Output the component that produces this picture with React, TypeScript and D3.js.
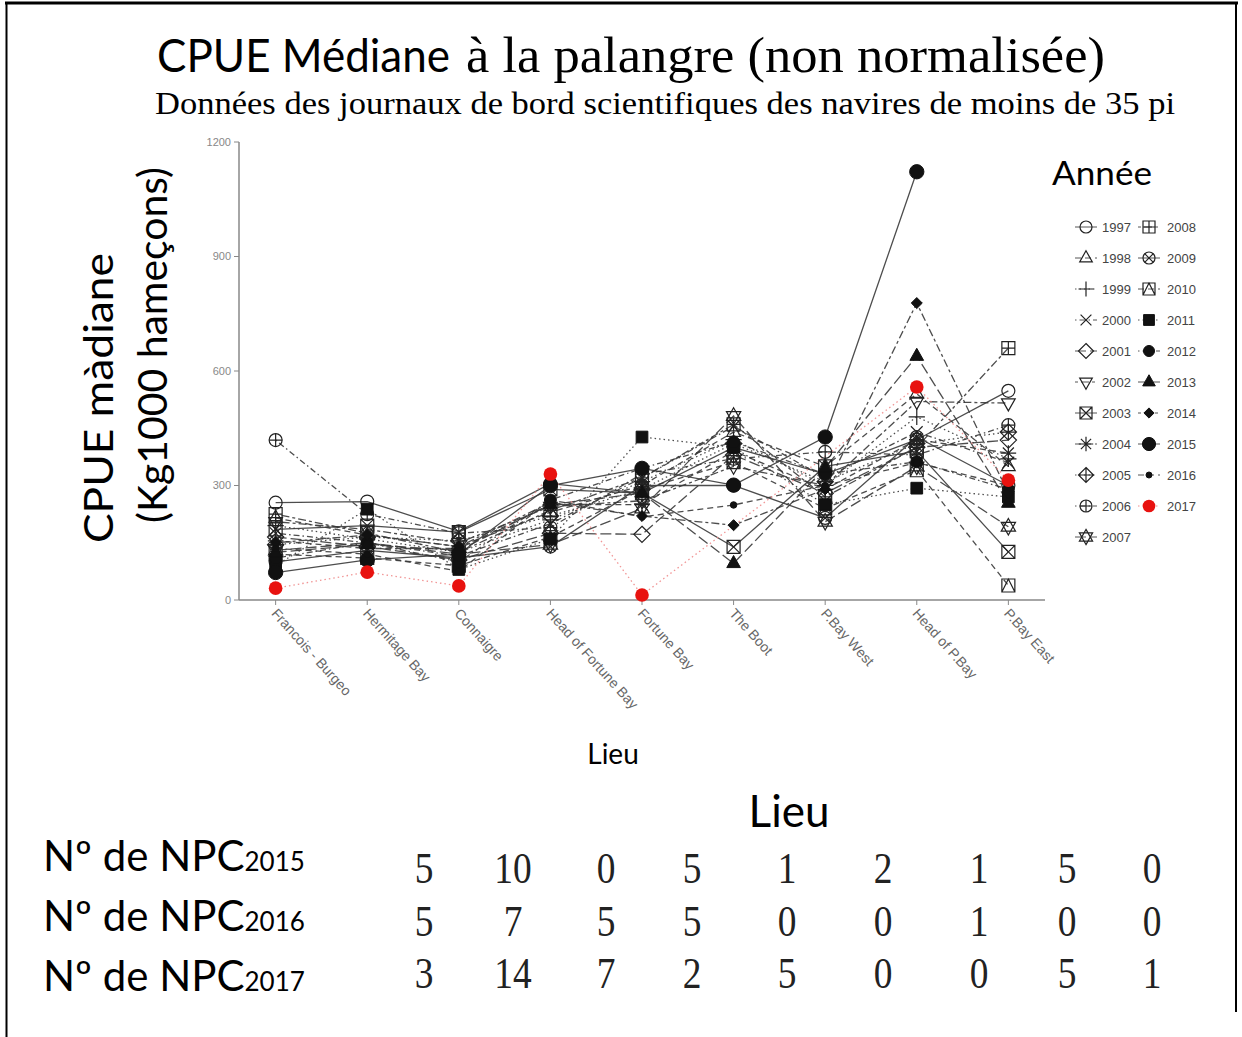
import React from "react";
import * as d3 from "d3";

const W = 1242;
const H = 1037;

const locations = ["Francois - Burgeo", "Hermitage Bay", "Connaigre", "Head of Fortune Bay", "Fortune Bay", "The Boot", "P.Bay West", "Head of P.Bay", "P.Bay East"];
const years = [1997, 1998, 1999, 2000, 2001, 2002, 2003, 2004, 2005, 2006, 2007, 2008, 2009, 2010, 2011, 2012, 2013, 2014, 2015, 2016, 2017];
const markerTypes = ["circle", "triangle", "plus", "cross", "diamond", "triangleDown", "squareX", "asterisk", "diamondPlus", "circlePlus", "star", "squarePlus", "circleX", "squareTriangle", "fSquare", "fCircle", "fTriangle", "fDiamond", "fCircleL", "fCircleS", "red"];
const lineTypes = ["solid", "dashed", "dotted", "dotdash", "longdash", "twodash"];

// CPUE values per year, in location order (null = no data)
const v1997 = [255, 258, 180, 305, 280, 400, 330, 420, 548];
const v1998 = [215, 170, 140, 230, 300, 440, 350, 540, 350];
const v1999 = [195, 160, 125, 210, 310, 420, 300, 480, 370];
const v2000 = [175, 150, 115, 200, 320, 455, 320, 440, 360];
const v2001 = [165, 140, 105, 175, 172, 380, 280, 400, 419];
const v2002 = [205, 185, 150, 245, 260, 350, 300, 520, 516];
const v2003 = [185, 195, 178, 290, 280, 139, 350, 390, 126];
const v2004 = [155, 135, 135, 250, 250, 390, 290, 420, 385];
const v2005 = [145, 165, 155, 220, 290, 410, 310, 410, 440];
const v2006 = [419, 225, 175, 190, 330, 370, 388, 380, 458];
const v2007 = [130, 150, 120, 145, 240, 482, 205, 350, 192];
const v2008 = [225, 175, 125, 235, 320, 460, 270, 400, 660];
const v2009 = [100, 130, 110, 140, 300, 300, 215, 427, 300];
const v2010 = [120, 110, 90, 165, 290, 361, 240, 340, 38];
const v2011 = [90, 238, 80, 160, 427, 400, 250, 293, 270];
const v2012 = [110, 150, 100, 262, 345, 414, 330, 362, 290];
const v2013 = [125, 145, 130, 250, 280, 96, 346, 639, 254];
const v2014 = [150, 170, 140, 255, 220, 196, 290, 778, 280];
const v2015 = [72, 105, 120, 300, 345, 301, 427, 1122, null];
const v2016 = [135, 120, 75, 262, 218, 249, 300, 360, 300];
const v2017 = [31, 73, 37, 330, 13, null, null, 558, 314];
const seriesValues = [v1997, v1998, v1999, v2000, v2001, v2002, v2003, v2004, v2005, v2006, v2007, v2008, v2009, v2010, v2011, v2012, v2013, v2014, v2015, v2016, v2017];

const yTicks = [0, 300, 600, 900, 1200];

const npcLabels = ["2015", "2016", "2017"];
const npc2015 = [5, 10, 0, 5, 1, 2, 1, 5, 0];
const npc2016 = [5, 7, 5, 5, 0, 0, 1, 0, 0];
const npc2017 = [3, 14, 7, 2, 5, 0, 0, 5, 1];
const npcRows = [npc2015, npc2016, npc2017];

const dashFor = (lt: string) => {
  switch (lt) {
    case "dashed": return "6,4";
    case "dotted": return "1.5,3";
    case "dotdash": return "1.5,3,6,3";
    case "longdash": return "11,4";
    case "twodash": return "3,3,8,3";
    default: return undefined;
  }
};

function Marker({ t, x, y, s = 6.5 }: { t: string; x: number; y: number; s?: number }) {
  const st = { fill: "none", stroke: "#222", strokeWidth: 1.2 };
  const f = { fill: "#111", stroke: "#111", strokeWidth: 1 };
  const sq = `M${-s},${-s}H${s}V${s}H${-s}Z`;
  const dia = (k: number) => `M0,${-k}L${k},0L0,${k}L${-k},0Z`;
  const triU = (k: number) => `M0,${-k * 1.15}L${k},${k * 0.62}L${-k},${k * 0.62}Z`;
  const triD = (k: number) => `M0,${k * 1.15}L${k},${-k * 0.62}L${-k},${-k * 0.62}Z`;
  const plus = (k: number) => `M${-k},0H${k}M0,${-k}V${k}`;
  const cross = (k: number) => `M${-k},${-k}L${k},${k}M${-k},${k}L${k},${-k}`;
  let el: React.ReactNode = null;
  switch (t) {
    case "circle": el = <circle r={s} {...st} />; break;
    case "triangle": el = <path d={triU(s * 1.05)} {...st} />; break;
    case "plus": el = <path d={plus(s * 1.25)} {...st} />; break;
    case "cross": el = <path d={cross(s * 0.9)} {...st} />; break;
    case "diamond": el = <path d={dia(s * 1.25)} {...st} />; break;
    case "triangleDown": el = <path d={triD(s * 1.05)} {...st} />; break;
    case "squareX": el = <path d={sq + cross(s)} {...st} />; break;
    case "asterisk": el = <path d={plus(s * 1.2) + cross(s * 0.85)} {...st} />; break;
    case "diamondPlus": el = <path d={dia(s * 1.25) + plus(s * 1.25)} {...st} />; break;
    case "circlePlus": el = <path d={plus(s)} {...st} />; break;
    case "star": el = <path d={triU(s * 1.1) + triD(s * 1.1)} {...st} />; break;
    case "squarePlus": el = <path d={sq + plus(s)} {...st} />; break;
    case "circleX": el = <path d={cross(s * 0.72)} {...st} />; break;
    case "squareTriangle": el = <path d={sq + `M${-s},${s}L0,${-s}L${s},${s}`} {...st} />; break;
    case "fSquare": el = <path d={`M${-s * 0.9},${-s * 0.9}H${s * 0.9}V${s * 0.9}H${-s * 0.9}Z`} {...f} />; break;
    case "fCircle": el = <circle r={s * 0.92} {...f} />; break;
    case "fTriangle": el = <path d={triU(s * 1.05)} {...f} />; break;
    case "fDiamond": el = <path d={dia(s * 0.85)} {...f} />; break;
    case "fCircleL": el = <circle r={s * 1.1} {...f} />; break;
    case "fCircleS": el = <circle r={s * 0.5} {...f} />; break;
    case "red": el = <circle r={s * 1.05} fill="#e8120f" stroke="none" />; break;
  }
  return (
    <g transform={`translate(${x},${y})`}>
      {(t === "circlePlus" || t === "circleX") && <circle r={s} {...st} />}
      {el}
    </g>
  );
}

export default function App() {
  const x = d3.scalePoint<string>().domain(locations).range([239, 1045]).padding(0.4);
  const y = d3.scaleLinear().domain([0, 1200]).range([600, 142]);
  const line = d3.line<[number, number]>().x((d) => d[0]).y((d) => d[1]);

  const series = years.map((yr, i) => {
    const pts = seriesValues[i]
      .map((v, j) => (v == null ? null : ([x(locations[j]) as number, y(v)] as [number, number])))
      .filter((p): p is [number, number] => p != null);
    return { yr, i, pts, marker: markerTypes[i], lt: lineTypes[i % 6] };
  });

  const sans = "Lato, 'Open Sans', sans-serif";
  const serif = "'Times New Roman', 'Liberation Serif', Times, serif";
  const arial = "'Liberation Sans', Arial, sans-serif";
  const npcX = [424, 513, 606, 692, 787, 883, 979, 1067, 1152];
  const npcY = [883, 936, 988];
  const labY = [871, 931, 991];

  return (
    <svg width={W} height={H} viewBox={`0 0 ${W} ${H}`} style={{ position: "absolute", left: 0, top: 0, background: "#fff" }}>
      <rect width={W} height={H} fill="#fff" />
      {/* frame */}
      <line x1={5} x2={1238} y1={3} y2={3} stroke="#000" strokeWidth={3} />
      <line x1={6.5} x2={6.5} y1={2} y2={H} stroke="#000" strokeWidth={2} />
      <line x1={1236} x2={1236} y1={2} y2={1012} stroke="#000" strokeWidth={2} />

      {/* titles */}
      <text x={157} y={72} fontFamily={sans} fontSize={46} textLength={293} lengthAdjust="spacingAndGlyphs" fill="#000">CPUE Médiane</text>
      <text x={466} y={72} fontFamily={serif} fontSize={50} textLength={639} lengthAdjust="spacingAndGlyphs" fill="#000">à la palangre (non normalisée)</text>
      <text x={155} y={114} fontFamily={serif} fontSize={31} textLength={1020} lengthAdjust="spacingAndGlyphs" fill="#000">Données des journaux de bord scientifiques  des navires  de moins de 35 pi</text>

      {/* y label */}
      <text transform="translate(113,543) rotate(-90)" fontFamily={sans} fontSize={40} textLength={290} lengthAdjust="spacingAndGlyphs" fill="#000">CPUE màdiane</text>
      <text transform="translate(167,523) rotate(-90)" fontFamily={sans} fontSize={40} textLength={356} lengthAdjust="spacingAndGlyphs" fill="#000">(Kg1000 hameçons)</text>

      {/* axes */}
      <line x1={239} x2={239} y1={142} y2={600} stroke="#888" strokeWidth={1.5} />
      <line x1={239} x2={1045} y1={600} y2={600} stroke="#888" strokeWidth={1.5} />
      {yTicks.map((t) => (
        <g key={t}>
          <line x1={234} x2={239} y1={y(t)} y2={y(t)} stroke="#888" strokeWidth={1} />
          <text x={231} y={y(t)} dy="0.35em" textAnchor="end" fontFamily={arial} fontSize={11} fill="#888">{t}</text>
        </g>
      ))}
      {locations.map((l) => (
        <g key={l}>
          <line x1={x(l)} x2={x(l)} y1={600} y2={605} stroke="#888" strokeWidth={1} />
          <text transform={`translate(${(x(l) as number) - 5},${614}) rotate(48)`} fontFamily={arial} fontSize={14} fill="#666">{l}</text>
        </g>
      ))}
      <text x={613} y={764} textAnchor="middle" fontFamily={sans} fontSize={28} fill="#000">Lieu</text>

      {/* lines */}
      {series.map((s) => (
        <path key={"l" + s.yr} d={line(s.pts) || ""} fill="none"
          stroke={s.yr === 2017 ? "#f08a8a" : "#3a3a3a"} strokeWidth={1.3}
          strokeDasharray={dashFor(s.lt)} opacity={0.9} />
      ))}
      {/* markers */}
      {series.map((s) => (
        <g key={"m" + s.yr}>
          {s.pts.map((p, j) => <Marker key={j} t={s.marker} x={p[0]} y={p[1]} />)}
        </g>
      ))}

      {/* legend */}
      <text x={1052} y={185} fontFamily={sans} fontSize={32} textLength={100} lengthAdjust="spacingAndGlyphs" fill="#000">Année</text>
      {series.map((s) => {
        const col = s.i < 11 ? 0 : 1;
        const row = s.i < 11 ? s.i : s.i - 11;
        const sx = col === 0 ? 1086 : 1149;
        const tx = col === 0 ? 1102 : 1167;
        const sy = 227 + row * 31;
        return (
          <g key={"lg" + s.yr}>
            <line x1={sx - 11} x2={sx + 11} y1={sy} y2={sy} stroke={s.yr === 2017 ? "#f08a8a" : "#555"} strokeWidth={1} strokeDasharray={dashFor(s.lt)} />
            <Marker t={s.marker} x={sx} y={sy} s={6} />
            <text x={tx} y={sy} dy="0.36em" fontFamily={arial} fontSize={13} fill="#444">{s.yr}</text>
          </g>
        );
      })}

      {/* NPC table */}
      <text x={789} y={827} textAnchor="middle" fontFamily={sans} fontSize={44} fill="#000">Lieu</text>
      {npcRows.map((row, r) => (
        <g key={"r" + r}>
          <text x={43} y={labY[r]} fontFamily={sans} fontSize={42} fill="#000">
            Nº de NPC<tspan fontSize={26}>{npcLabels[r]}</tspan>
          </text>
          {row.map((v, j) => (
            <text key={j} transform={`translate(${npcX[j]},${npcY[r]}) scale(0.85,1)`} textAnchor="middle" fontFamily={serif} fontSize={44} fill="#222">{v}</text>
          ))}
        </g>
      ))}
    </svg>
  );
}
